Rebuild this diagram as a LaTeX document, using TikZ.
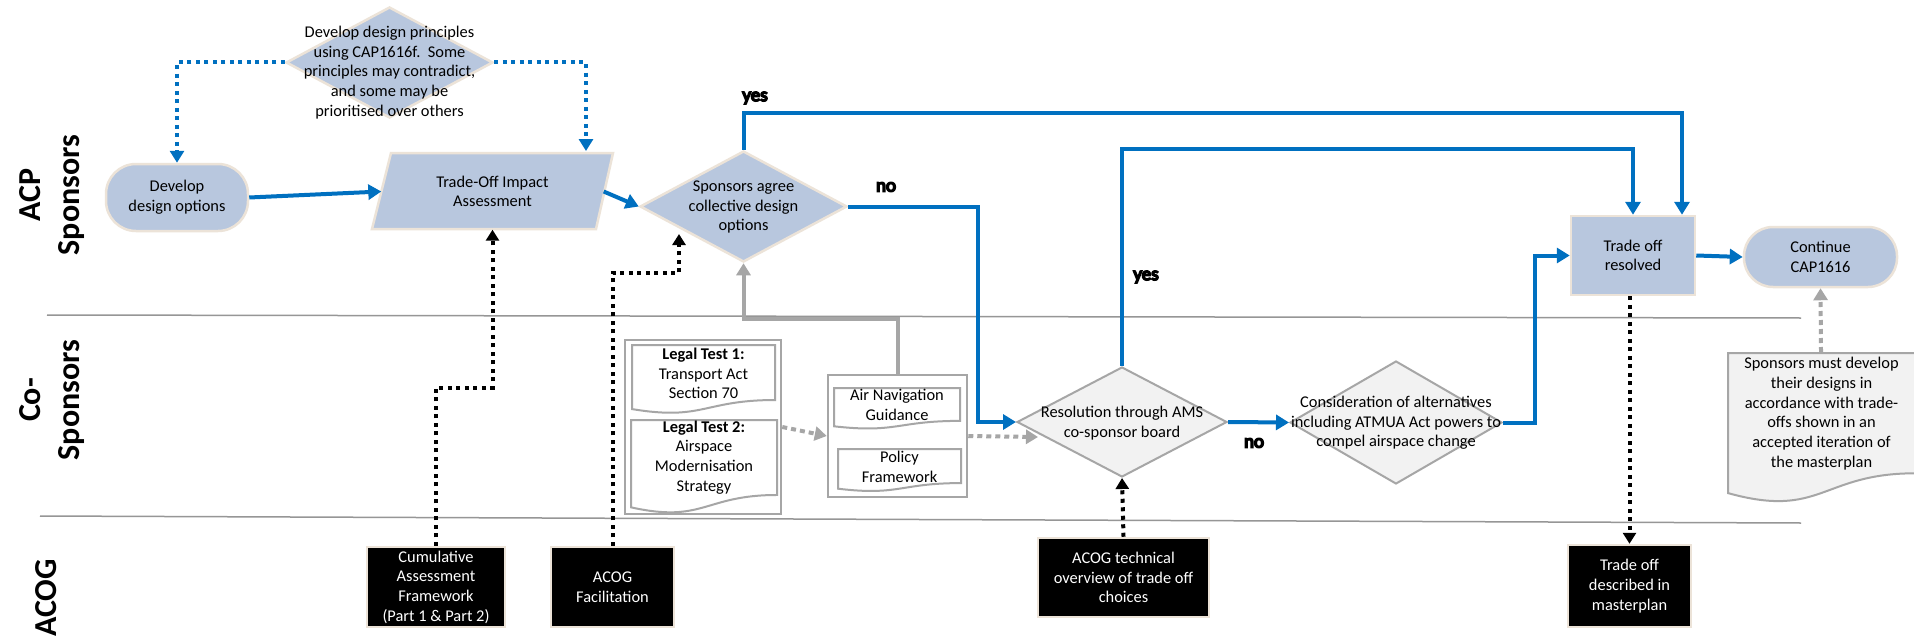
\documentclass[tikz,border=0pt]{standalone}
\usepackage{fontspec}
\setmainfont{Carlito}
\usetikzlibrary{shapes.geometric,arrows.meta,calc}
\definecolor{bfill}{RGB}{184,199,222}
\definecolor{bedge}{RGB}{236,227,216}
\definecolor{lblue}{RGB}{0,112,192}
\definecolor{gedge}{RGB}{166,166,166}
\definecolor{gfill}{RGB}{242,242,242}
\definecolor{sepc}{RGB}{150,150,150}
\tikzset{
  txt/.style={font=\fontsize{16.4}{19.7}\selectfont, align=center, inner sep=0pt},
  bluebox/.style={fill=bfill, draw=bedge, line width=2.5pt},
  bluedia/.style={diamond, fill=bfill, draw=bedge, line width=2.5pt, inner sep=0pt},
  greydia/.style={diamond, fill=gfill, draw=gedge, line width=2pt, inner sep=0pt},
  blackbox/.style={txt, fill=black, draw=bedge, line width=2.5pt, text=white},
  grpbox/.style={draw=gedge, line width=2.5pt, fill=white},
  docline/.style={draw=gedge, line width=2pt},
  lane/.style={font=\fontsize{32}{39}\selectfont\bfseries, align=center, rotate=90, inner sep=0pt},
  lbl/.style={font=\fontsize{19}{20}\selectfont, inner sep=1pt, text=white},
  bflow/.style={draw=lblue, line width=4pt, -{Triangle[length=13pt,width=15pt]}},
  bdot/.style={draw=lblue, line width=4pt, dash pattern=on 4pt off 4.5pt, -{Triangle[length=12pt,width=14pt]}},
  kdot/.style={draw=black, line width=4pt, dash pattern=on 4pt off 4.5pt, -{Triangle[length=11pt,width=13pt]}},
  gdot/.style={draw=gedge, line width=4pt, dash pattern=on 5pt off 4pt, -{Triangle[length=12pt,width=14pt]}},
  gflow/.style={draw=gedge, line width=4pt, -{Triangle[length=12pt,width=14pt]}},
  sepline/.style={draw=sepc, line width=1.5pt}
}
\newcommand\docshape[8]{%
  \draw[docline, fill=#7] (#2,#3) -- ({#2+#4},#3) -- ({#2+#4},{#3+0.802*#5})
     .. controls ({#2+0.5*#4},{#3+0.802*#5}) and ({#2+0.5*#4},{#3+1.1075*#5}) .. (#2,{#3+0.934*#5}) -- cycle;
  \node[txt] (#1) at ({#2+0.5*#4},#6) {#8};
}
% white text with a black outline (text render mode 2)
\newcommand\outl[1]{\special{pdf:literal direct 2 Tr 1.6 w 0 G}#1\special{pdf:literal direct 0 Tr}}
\begin{document}
\begin{tikzpicture}[x=1pt,y=-1pt]
\useasboundingbox (0,0) rectangle (1914,642);
\fill[white] (0,0) rectangle (1914,642);

% lane separators
\draw[sepline] (47,315) -- (1801,318);
\draw[sepline] (40,516) -- (1801,523);

% lane labels
\node[lane] (l1) at (52,195) {ACP\\Sponsors};
\node[lane] (l2) at (52,400) {Co-\\Sponsors};
\node[lane] (l3) at (46,598) {ACOG};

% ACP Sponsors lane
\node[bluedia, minimum width=207, minimum height=111] (dp) at (389.5,62.5) {};
\node[txt] (dpt) at (389.5,72.5) {Develop design principles\\using CAP1616f.\ \ Some\\principles may contradict,\\and some may be\\prioritised over others};

\node[bluebox, txt, rounded corners=30pt, minimum width=142, minimum height=67] (dev) at (177,197.5) {Develop\\design options};

\draw[bluebox] (372,229) -- (391,153) -- (613,153) -- (596,229) -- cycle;
\node[txt, minimum width=222, minimum height=76] (toia) at (492.5,191.5) {Trade-Off Impact\\Assessment};

\node[bluedia, minimum width=207, minimum height=111] (sd) at (743.5,206.5) {};
\node[txt] (sdt) at (743.5,207) {Sponsors agree\\collective design\\options};

\node[bluebox, txt, minimum width=124, minimum height=79] (tor) at (1633,255.5) {Trade off\\resolved};
\node[bluebox, txt, rounded corners=29pt, minimum width=153, minimum height=60] (cont) at (1820.5,257) {Continue\\CAP1616};

% Co-sponsors lane
\node[grpbox, minimum width=156, minimum height=174] (leggrp) at (703,427) {};
\docshape{lt1}{632}{345}{143}{68.6}{373.5}{white}{\textbf{Legal Test 1:}\\Transport Act\\Section 70}
\docshape{lt2}{631}{420}{146}{93.5}{457.5}{white}{\textbf{Legal Test 2:}\\Airspace\\Modernisation\\Strategy}

\node[grpbox, minimum width=139, minimum height=122] (airgrp) at (897.5,436) {};
\docshape{anv}{834}{388}{126}{41}{405}{white}{Air Navigation\\Guidance}
\docshape{pol}{838}{449}{123}{42.5}{467}{white}{Policy\\Framework}

\node[greydia, minimum width=210, minimum height=110] (res) at (1122,422) {};
\node[txt] (rest) at (1122,423) {Resolution through AMS\\co-sponsor board};

\node[greydia, minimum width=212, minimum height=123] (alt) at (1396,422.5) {};
\node[txt] (altt) at (1396,423) {Consideration of alternatives\\including ATMUA Act powers to\\compel airspace change};

\docshape{note}{1728}{353}{187}{150}{413.5}{gfill}{Sponsors must develop\\their designs in\\accordance with trade-\\offs shown in an\\accepted iteration of\\the masterplan}

% ACOG lane
\node[blackbox, minimum width=138, minimum height=80] (cum) at (436,587) {Cumulative\\Assessment\\Framework\\(Part 1 \& Part 2)};
\node[blackbox, minimum width=123, minimum height=80] (acogf) at (612.5,587) {ACOG\\Facilitation};
\node[blackbox, minimum width=171, minimum height=79] (acogt) at (1123.5,577.5) {ACOG technical\\overview of trade off\\choices};
\node[blackbox, minimum width=123, minimum height=82] (tdm) at (1629.5,586) {Trade off\\described in\\masterplan};

% coordinates for free ends
\coordinate (toiaIn) at (586,151);
\coordinate (sdIn) at (679,234);
\coordinate (yesTop) at (1682,113);
\coordinate (resTop) at (1633,149);
\coordinate (noteTop) at (1821,352);

% connectors
\draw[bdot] (dp.west) -| (dev.north);
\draw[bdot] (dp.east) -| (toiaIn);
\draw[bflow] (dev.east) -- (toia.west);
\draw[bflow] (toia.east) -- (sd.west);
\draw[bflow] (sd.north) |- (yesTop) -- (tor.north -| yesTop);
\draw[bflow] (sd.east) -| ($(res.west)+(-38,0)$) -- (res.west);
\draw[bflow] (res.north) |- (resTop) -- (tor.north);
\draw[bflow] (res.east) -- (alt.west);
\draw[bflow] (alt.east) -| ($(tor.west)+(-35,0)$) -- (tor.west);
\draw[bflow] (tor.east) -- (cont.west);

\draw[gflow] (airgrp.north) |- ($(sd.south)+(0,56)$) -- (sd.south);
\draw[gdot] (leggrp.east) -- (airgrp.west);
\draw[gdot] (airgrp.east) -- ($(res.west)+(22,15)$);
\draw[gdot] (noteTop) -- (cont.south);

\draw[kdot] (cum.north) |- ($(toia.south)+(0,158)$) -- (toia.south);
\draw[kdot] (acogf.north) |- ($(sdIn)+(0,39)$) -- (sdIn);
\draw[kdot] (acogt.north) -- (res.south);
\draw[kdot] (tdm.north |- tor.south) -- (tdm.north);

% yes / no labels
\node[lbl] (yes1) at (755,98) {\outl{yes}};
\node[lbl] (no1) at (886,187) {\outl{no}};
\node[lbl] (yes2) at (1146,277) {\outl{yes}};
\node[lbl] (no2) at (1254,443) {\outl{no}};
\end{tikzpicture}
\end{document}
